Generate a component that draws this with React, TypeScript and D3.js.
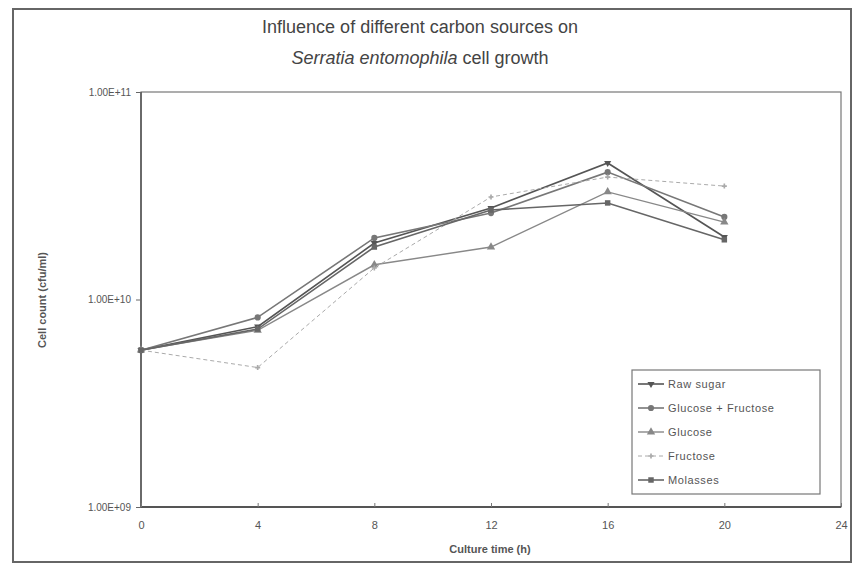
import React, { useEffect, useRef } from 'react';
import * as d3 from 'd3';

// culture time (h)
const times = [0, 4, 8, 12, 16, 20];
const xTicks = [0, 4, 8, 12, 16, 20, 24];
const yTicks = [1e9, 1e10, 1e11];
const yTickLabels = ['1.00E+09', '1.00E+10', '1.00E+11'];

// cell counts (cfu/ml)
const rawSugar = [5.7e9, 7.4e9, 1.87e10, 2.76e10, 4.55e10, 2.0e10];
const glucoseFructose = [5.7e9, 8.2e9, 1.98e10, 2.61e10, 4.11e10, 2.5e10];
const glucose = [5.7e9, 7.1e9, 1.47e10, 1.79e10, 3.3e10, 2.36e10];
const fructose = [5.7e9, 4.7e9, 1.42e10, 3.12e10, 3.89e10, 3.52e10];
const molasses = [5.7e9, 7.2e9, 1.79e10, 2.7e10, 2.92e10, 1.94e10];

const seriesNames = ['Raw sugar', 'Glucose + Fructose', 'Glucose', 'Fructose', 'Molasses'];
const seriesValues = [rawSugar, glucoseFructose, glucose, fructose, molasses];

const App = () => {
    const ref = useRef<SVGSVGElement>(null);

    useEffect(() => {
        const width = 854,
            height = 568;
        const left = 141,
            right = 841,
            top = 92,
            bottom = 507;
        const font = '"Liberation Sans", Arial, sans-serif';

        const svg = d3.select(ref.current);
        svg.selectAll('*').remove();
        svg.attr('width', width).attr('height', height);

        svg.append('rect').attr('width', width).attr('height', height).attr('fill', '#fff');

        // outer frame
        svg.append('rect')
            .attr('x', 13).attr('y', 9)
            .attr('width', 838).attr('height', 553)
            .attr('fill', 'none').attr('stroke', '#666').attr('stroke-width', 2);

        const x = d3.scaleLinear().domain([0, 24]).range([left, right]);
        const y = d3.scaleLog().domain([1e9, 1e11]).range([bottom, top]);

        // title
        const title = svg.append('text')
            .attr('x', 420).attr('y', 33)
            .attr('text-anchor', 'middle')
            .attr('font-family', font).attr('font-size', 18)
            .attr('fill', '#444');
        title.append('tspan').text('Influence of different carbon sources on');
        const t2 = svg.append('text')
            .attr('x', 420).attr('y', 64)
            .attr('text-anchor', 'middle')
            .attr('font-family', font).attr('font-size', 18)
            .attr('fill', '#444');
        t2.append('tspan').attr('font-style', 'italic').text('Serratia entomophila');
        t2.append('tspan').text(' cell growth');

        // plot frame
        svg.append('rect')
            .attr('x', left).attr('y', top)
            .attr('width', right - left).attr('height', bottom - top)
            .attr('fill', 'none').attr('stroke', '#777').attr('stroke-width', 1.2);
        svg.append('line')
            .attr('x1', left).attr('x2', left).attr('y1', top).attr('y2', bottom)
            .attr('stroke', '#555').attr('stroke-width', 1.5);
        svg.append('line')
            .attr('x1', left).attr('x2', right).attr('y1', bottom).attr('y2', bottom)
            .attr('stroke', '#555').attr('stroke-width', 1.8);

        // y axis
        const yAxis = d3.axisLeft(y)
            .tickValues(yTicks)
            .tickSize(5)
            .tickFormat((d, i) => yTickLabels[i]);
        const gy = svg.append('g').attr('transform', `translate(${left},0)`).call(yAxis);
        gy.select('.domain').remove();
        gy.selectAll('line').attr('stroke', '#666');
        gy.selectAll('text')
            .attr('font-family', font).attr('font-size', 10)
            .attr('fill', '#555').attr('x', -10);

        // x axis
        const xAxis = d3.axisBottom(x).tickValues(xTicks).tickSize(-4).tickPadding(14);
        const gx = svg.append('g').attr('transform', `translate(0,${bottom})`).call(xAxis);
        gx.select('.domain').remove();
        gx.selectAll('line').attr('stroke', '#777');
        gx.selectAll('text')
            .attr('font-family', font).attr('font-size', 11)
            .attr('fill', '#555');

        // axis titles
        svg.append('text')
            .attr('x', 490).attr('y', 553)
            .attr('text-anchor', 'middle')
            .attr('font-family', font).attr('font-size', 11).attr('font-weight', 'bold')
            .attr('fill', '#555')
            .text('Culture time (h)');
        svg.append('text')
            .attr('transform', 'translate(46,300) rotate(-90)')
            .attr('text-anchor', 'middle')
            .attr('font-family', font).attr('font-size', 11).attr('font-weight', 'bold')
            .attr('fill', '#555')
            .text('Cell count (cfu/ml)');

        const colors = ['#555', '#777', '#888', '#aaa', '#666'];
        const widths = [1.6, 1.6, 1.4, 1, 1.6];
        const dashes = [null, null, null, '4,3', null];
        const symbols = [
            d3.symbol().type(d3.symbolTriangle).size(22),
            d3.symbol().type(d3.symbolCircle).size(30),
            d3.symbol().type(d3.symbolTriangle).size(30),
            d3.symbol().type(d3.symbolCross).size(14),
            d3.symbol().type(d3.symbolSquare).size(30),
        ];
        const rotations = [180, 0, 0, 0, 0];

        const line = d3.line<number>()
            .x((d, i) => x(times[i]))
            .y(d => y(d));

        seriesValues.forEach((vals, s) => {
            svg.append('path')
                .attr('d', line(vals))
                .attr('fill', 'none')
                .attr('stroke', colors[s])
                .attr('stroke-width', widths[s])
                .attr('stroke-dasharray', dashes[s]);
            svg.selectAll(null)
                .data(vals)
                .enter()
                .append('path')
                .attr('d', symbols[s]())
                .attr('transform', (d, i) => `translate(${x(times[i])},${y(d)}) rotate(${rotations[s]})`)
                .attr('fill', colors[s]);
        });

        // legend
        const lx = 632, ly = 370;
        svg.append('rect')
            .attr('x', lx).attr('y', ly)
            .attr('width', 188).attr('height', 124)
            .attr('fill', '#fff').attr('stroke', '#777').attr('stroke-width', 1.2);
        seriesNames.forEach((name, s) => {
            const cy = ly + 14 + s * 24;
            svg.append('line')
                .attr('x1', lx + 6).attr('x2', lx + 32)
                .attr('y1', cy).attr('y2', cy)
                .attr('stroke', colors[s]).attr('stroke-width', widths[s])
                .attr('stroke-dasharray', dashes[s]);
            svg.append('path')
                .attr('d', symbols[s]())
                .attr('transform', `translate(${lx + 19},${cy}) rotate(${rotations[s]})`)
                .attr('fill', colors[s]);
            svg.append('text')
                .attr('x', lx + 36).attr('y', cy + 4)
                .attr('font-family', font).attr('font-size', 11)
                .attr('letter-spacing', 0.6)
                .attr('fill', '#555')
                .text(name);
        });
    }, []);

    return <svg ref={ref} style={{ display: 'block', position: 'absolute', left: 0, top: 0 }}></svg>;
};

export default App;
